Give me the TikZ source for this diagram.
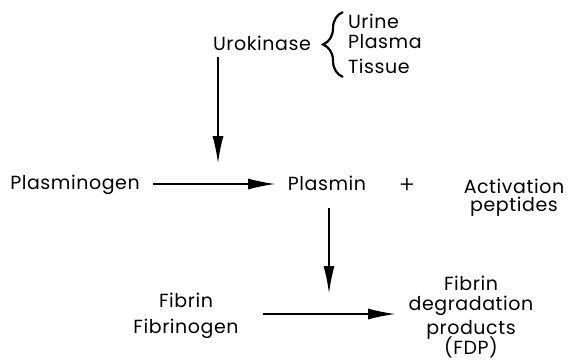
\documentclass[tikz,border=0pt]{standalone}
\usepackage{fontspec}
\setmainfont{Poppins}[LetterSpace=3]
\usetikzlibrary{arrows.meta,decorations.pathreplacing}
\tikzset{
  lbl/.style={inner sep=0pt, outer sep=0pt, font=\fontsize{19}{21}\selectfont, anchor=base},
  lblw/.style={lbl, anchor=base west},
  arr/.style={line width=1.1pt, -{Latex[length=27pt,width=11pt]}},
  bracestyle/.style={line width=2.2pt, decorate, decoration={brace, amplitude=20pt, aspect=0.5}}
}
\begin{document}
\begin{tikzpicture}[x=1pt,y=-1pt]
\useasboundingbox (0,0) rectangle (570,360);
% top group
\node[lbl] (uro) at (262,50) {Urokinase};
\node[lblw] (urine) at (348,28) {Urine};
\node[lblw] (plasma) at (348,48) {Plasma};
\node[lblw] (tissue) at (348,73) {Tissue};
\coordinate (bt) at (343,12);
\coordinate (bb) at (343,77);
\draw[bracestyle] (bb) -- (bt);
% middle row
\node[lbl] (plg) at (75,189) {Plasminogen};
\node[lbl] (pls) at (327,190) {Plasmin};
\node[lbl, font=\fontsize{24}{26}\fontspec{Poppins Light}] (plus) at (407,193) {+};
\node[lbl] (act) at (514,193) {Activation};
\node[lbl] (pep) at (514,211) {peptides};
% bottom row
\node[lbl] (fib) at (186,307) {Fibrin};
\node[lbl] (fbg) at (186,333) {Fibrinogen};
\node[lbl] (fdp1) at (471,290) {Fibrin};
\node[lbl] (fdp2) at (471,310) {degradation};
\node[lbl] (fdp3) at (471,334) {products};
\node[lbl] (fdp4) at (471,354) {(FDP)};
% arrows
\coordinate (a1s) at (218,57);
\coordinate (a1e) at (218,163);
\draw[arr] (a1s) -- (a1e);
\coordinate (a2s) at (153,184);
\coordinate (a2e) at (275,184);
\draw[arr] (a2s) -- (a2e);
\coordinate (a3s) at (329,208);
\coordinate (a3e) at (329,293);
\draw[arr] (a3s) -- (a3e);
\coordinate (a4s) at (263,314);
\coordinate (a4e) at (395,314);
\draw[arr] (a4s) -- (a4e);
\end{tikzpicture}
\end{document}
